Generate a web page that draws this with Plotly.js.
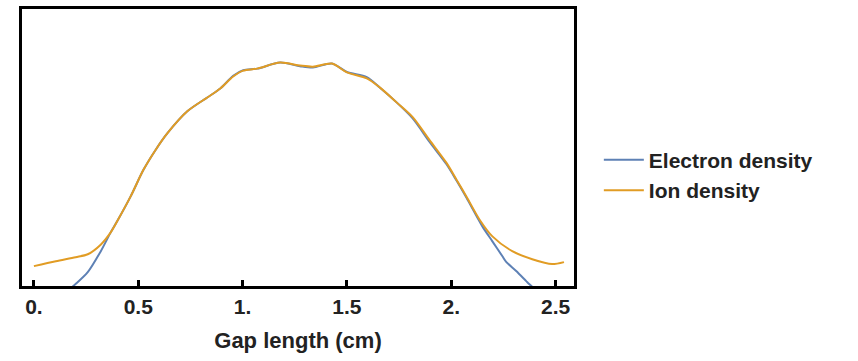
<!DOCTYPE html>
<html>
<head>
<meta charset="utf-8">
<script src="https://cdn.plot.ly/plotly-3.0.1.min.js"></script>
<style>html,body{margin:0;padding:0;background:#fff;}#chart{width:858px;height:361px;}</style>
</head>
<body>
<div id="chart"></div>
<script>
// Gap position (cm) and normalized densities
const ionX = [0.0, 0.105, 0.2, 0.258, 0.32, 0.368, 0.401, 0.463, 0.525, 0.583, 0.64, 0.735, 0.831, 0.893, 0.955, 1.003, 1.07, 1.18, 1.275, 1.337, 1.428, 1.5, 1.595, 1.657, 1.738, 1.815, 1.896, 1.977, 2.025, 2.073, 2.135, 2.197, 2.292, 2.388, 2.483, 2.54];
const ionY = [0.089, 0.111, 0.129, 0.142, 0.185, 0.240, 0.293, 0.400, 0.520, 0.609, 0.684, 0.782, 0.844, 0.884, 0.938, 0.964, 0.973, 1.0, 0.987, 0.982, 0.996, 0.956, 0.929, 0.889, 0.822, 0.756, 0.653, 0.551, 0.476, 0.4, 0.298, 0.222, 0.156, 0.12, 0.098, 0.107];
const elecX = [0.15, 0.2, 0.258, 0.32, 0.368, 0.401, 0.463, 0.525, 0.583, 0.64, 0.735, 0.831, 0.893, 0.955, 1.003, 1.07, 1.18, 1.275, 1.337, 1.428, 1.5, 1.595, 1.657, 1.738, 1.815, 1.896, 1.977, 2.025, 2.073, 2.149, 2.197, 2.245, 2.264, 2.311, 2.359, 2.373, 2.42];
const elecY = [-0.03, 0.009, 0.062, 0.155, 0.240, 0.293, 0.400, 0.520, 0.609, 0.684, 0.782, 0.844, 0.884, 0.941, 0.966, 0.973, 1.0, 0.984, 0.978, 0.996, 0.958, 0.935, 0.889, 0.822, 0.750, 0.645, 0.545, 0.472, 0.395, 0.267, 0.2, 0.133, 0.107, 0.067, 0.022, 0.009, -0.03];
const tickVals = [0, 0.5, 1, 1.5, 2, 2.5];
const tickText = ["0.", "0.5", "1.", "1.5", "2.", "2.5"];
const seriesNames = ["Electron density", "Ion density"];

const fontFam = '"Liberation Sans", Arial, sans-serif';
const traces = [
  {x: elecX, y: elecY, name: seriesNames[0], type: 'scatter', mode: 'lines',
   line: {color: '#5E81B5', width: 2, shape: 'spline', smoothing: 0.8}},
  {x: ionX, y: ionY, name: seriesNames[1], type: 'scatter', mode: 'lines',
   line: {color: '#E19C24', width: 2, shape: 'spline', smoothing: 0.8}}
];
const layout = {
  width: 858, height: 361,
  margin: {l: 22, r: 284, t: 9, b: 75},
  paper_bgcolor: '#fff', plot_bgcolor: '#fff',
  showlegend: true,
  legend: {x: 1.045, y: 0.40, xanchor: 'left', yanchor: 'middle', itemwidth: 40,
           font: {family: fontFam, size: 21, color: '#222', weight: 'bold'}, tracegroupgap: 0,
           bgcolor: 'rgba(0,0,0,0)'},
  xaxis: {range: [-0.057, 2.588], showgrid: false, zeroline: false,
          showline: true, mirror: true, linecolor: '#000', linewidth: 3,
          ticks: 'inside', ticklen: 6, tickwidth: 3, tickcolor: '#000',
          tickvals: tickVals, ticktext: tickText,
          tickfont: {family: fontFam, size: 21, color: '#222', weight: 'bold'},
          title: {text: 'Gap length (cm)', font: {family: fontFam, size: 22, color: '#222', weight: 'bold'}, standoff: 16}},
  yaxis: {range: [0, 1.24], showgrid: false, zeroline: false, showticklabels: false,
          showline: true, mirror: true, linecolor: '#000', linewidth: 3, ticks: ''}
};
Plotly.newPlot('chart', traces, layout, {displayModeBar: false, staticPlot: true});
</script>
</body>
</html>
